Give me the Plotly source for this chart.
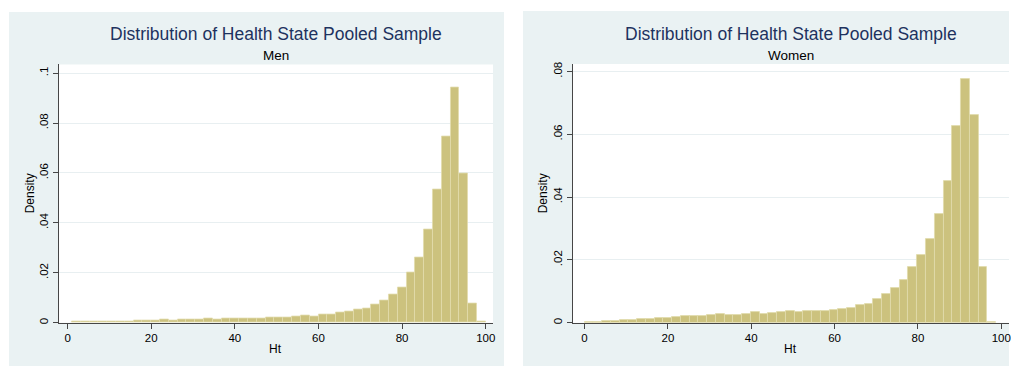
import plotly.graph_objects as go

W, H = 1011, 367

# Histogram of Ht (density scale), 47 equal-width bins per sample
men_range = (1.0, 100.0)
women_range = (0.0, 98.7)

men_density = [
    0.0003, 0.0003, 0.0003, 0.0003, 0.0004, 0.0004, 0.0006, 0.0007, 0.0008, 0.0007,
    0.0011, 0.0010, 0.0012, 0.0013, 0.0012, 0.0015, 0.0014, 0.0015, 0.0016, 0.0017,
    0.0018, 0.0018, 0.0021, 0.0021, 0.0020, 0.0024, 0.0029, 0.0025, 0.0032, 0.0033,
    0.0040, 0.0044, 0.0052, 0.0057, 0.0072, 0.0087, 0.0113, 0.0142, 0.0203, 0.0261,
    0.0373, 0.0532, 0.0747, 0.0944, 0.0599, 0.0077, 0.0003,
]

women_density = [
    0.0003, 0.0003, 0.0004, 0.0006, 0.0008, 0.0007, 0.0012, 0.0013, 0.0014, 0.0016,
    0.0019, 0.0020, 0.0020, 0.0020, 0.0023, 0.0027, 0.0025, 0.0026, 0.0029, 0.0033,
    0.0029, 0.0032, 0.0034, 0.0036, 0.0033, 0.0036, 0.0036, 0.0037, 0.0040, 0.0044,
    0.0048, 0.0055, 0.0061, 0.0074, 0.0091, 0.0111, 0.0137, 0.0178, 0.0216, 0.0267,
    0.0346, 0.0452, 0.0625, 0.0777, 0.0660, 0.0176, 0.0002,
]

x_ticks = [0, 20, 40, 60, 80, 100]
men_y_ticks = [0, 0.02, 0.04, 0.06, 0.08, 0.1]
men_y_labels = ["0", ".02", ".04", ".06", ".08", ".1"]
women_y_ticks = [0, 0.02, 0.04, 0.06, 0.08]
women_y_labels = ["0", ".02", ".04", ".06", ".08"]

main_title = "Distribution of Health State Pooled Sample"
panel_names = ["Men", "Women"]
x_title = "Ht"
y_title = "Density"

FONT = "Arial, 'Liberation Sans', Helvetica, sans-serif"
BAR_FILL = "rgb(204,194,126)"
BAR_EDGE = "rgb(226,220,172)"
REGION = "rgb(234,242,243)"
GRID = "rgb(232,239,241)"
AXIS = "rgb(70,70,70)"
TITLE_COLOR = "rgb(30,50,95)"


def bin_layout(lo, hi, n):
    w = (hi - lo) / n
    return [lo + w * (i + 0.5) for i in range(n)], w


def px_x(v):
    return v / W


def px_y(v):
    return 1 - v / H


fig = go.Figure()

for idx, (dens, rng) in enumerate([(men_density, men_range), (women_density, women_range)]):
    centers, width = bin_layout(rng[0], rng[1], len(dens))
    fig.add_trace(go.Bar(
        x=centers, y=dens, width=width,
        marker=dict(color=BAR_FILL, line=dict(color=BAR_EDGE, width=0.8)),
        xaxis="x" if idx == 0 else "x2",
        yaxis="y" if idx == 0 else "y2",
        showlegend=False, hoverinfo="skip",
    ))

axis_common = dict(
    showline=True, linecolor=AXIS, linewidth=1,
    ticks="outside", ticklen=5, tickcolor=AXIS, tickwidth=1,
    tickfont=dict(family=FONT, size=11.5, color="black"),
    zeroline=False, fixedrange=True,
)

fig.update_layout(
    width=W, height=H,
    margin=dict(l=0, r=0, t=0, b=0),
    paper_bgcolor="white",
    plot_bgcolor="rgba(0,0,0,0)",
    bargap=0,
    font=dict(family=FONT, color="black"),
    xaxis=dict(domain=[px_x(59), px_x(494)], range=[-2.08, 101.74],
               tickvals=x_ticks, showgrid=False, anchor="y", **axis_common),
    yaxis=dict(domain=[px_y(323.3), px_y(63)], range=[0, 0.10346],
               tickvals=men_y_ticks, ticktext=men_y_labels, tickangle=-90,
               showgrid=True, gridcolor=GRID, gridwidth=1, anchor="x", **axis_common),
    xaxis2=dict(domain=[px_x(574), 1.0], range=[-2.8, 101.85],
                tickvals=x_ticks, showgrid=False, anchor="y2", **axis_common),
    yaxis2=dict(domain=[px_y(323.3), px_y(62.5)], range=[0, 0.08237],
                tickvals=women_y_ticks, ticktext=women_y_labels, tickangle=-90,
                showgrid=True, gridcolor=GRID, gridwidth=1, anchor="x2", **axis_common),
)

# graph regions and white plot regions
shapes = [
    dict(type="rect", xref="paper", yref="paper", x0=px_x(9), x1=px_x(505),
         y0=0, y1=px_y(10), fillcolor=REGION, line=dict(width=0), layer="below"),
    dict(type="rect", xref="paper", yref="paper", x0=px_x(524), x1=1.0,
         y0=0, y1=px_y(9), fillcolor=REGION, line=dict(width=0), layer="below"),
    dict(type="rect", xref="paper", yref="paper", x0=px_x(59), x1=px_x(494),
         y0=px_y(323.3), y1=px_y(63), fillcolor="white", line=dict(width=0), layer="below"),
    dict(type="rect", xref="paper", yref="paper", x0=px_x(574), x1=1.0,
         y0=px_y(323.3), y1=px_y(62.5), fillcolor="white", line=dict(width=0), layer="below"),
]
fig.update_layout(shapes=shapes)

annotations = []
for cx, dx, name in [(276.5, 30, panel_names[0]), (792.3, 545, panel_names[1])]:
    annotations.append(dict(text=main_title, x=px_x(cx), y=px_y(32.5), xref="paper", yref="paper",
                            xanchor="center", yanchor="middle", showarrow=False,
                            font=dict(family=FONT, size=17.5, color=TITLE_COLOR)))
    annotations.append(dict(text=name, x=px_x(cx), y=px_y(53.5), xref="paper", yref="paper",
                            xanchor="center", yanchor="middle", showarrow=False,
                            font=dict(family=FONT, size=13.5, color="black")))
    annotations.append(dict(text=x_title, x=px_x(cx), y=px_y(350), xref="paper", yref="paper",
                            xanchor="center", yanchor="middle", showarrow=False,
                            font=dict(family=FONT, size=12, color="black")))
    annotations.append(dict(text=y_title, x=px_x(dx), y=px_y(193), xref="paper", yref="paper",
                            xanchor="center", yanchor="middle", showarrow=False, textangle=-90,
                            font=dict(family=FONT, size=12, color="black")))
fig.update_layout(annotations=annotations)

fig.write_html("out.html")
